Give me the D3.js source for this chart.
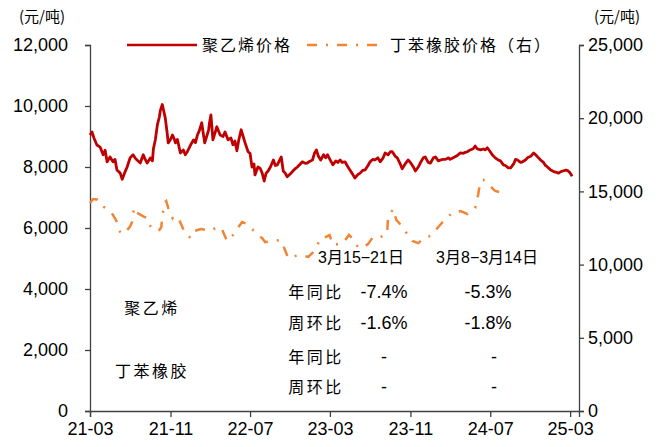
<!DOCTYPE html>
<html>
<head>
<meta charset="utf-8">
<script src="https://cdn.jsdelivr.net/npm/d3@7/dist/d3.min.js"></script>
<style>
  html, body { margin: 0; padding: 0; background: #fff; }
  svg { display: block; }
</style>
</head>
<body>
<svg id="chart" width="665" height="447"></svg>
<script>
// 聚乙烯价格 (元/吨, 左轴)
const pePrices = [
  ["2021-03-01",9050],["2021-03-07",9150],["2021-03-13",8950],["2021-03-22",8720],
  ["2021-04-01",8650],["2021-04-10",8400],["2021-04-16",8550],["2021-04-22",8170],
  ["2021-05-01",8330],["2021-05-10",8170],["2021-05-16",8250],["2021-05-22",7900],
  ["2021-06-01",7800],["2021-06-07",7600],["2021-06-16",7850],["2021-06-22",8000],
  ["2021-07-01",8300],["2021-07-10",8400],["2021-07-16",8300],["2021-07-22",8230],
  ["2021-08-01",8130],["2021-08-10",8400],["2021-08-16",8250],["2021-08-22",8130],
  ["2021-09-01",8300],["2021-09-07",8200],["2021-09-10",8600],["2021-09-16",8900],
  ["2021-09-22",9380],["2021-09-28",9640],["2021-10-01",9850],["2021-10-07",10050],
  ["2021-10-10",9900],["2021-10-16",9610],["2021-10-22",9100],["2021-10-25",8790],
  ["2021-11-01",8900],["2021-11-07",9050],["2021-11-13",8900],["2021-11-16",8790],
  ["2021-11-22",8900],["2021-12-01",8460],["2021-12-10",8560],["2021-12-16",8400],
  ["2021-12-22",8500],["2022-01-01",8720],["2022-01-10",8890],["2022-01-16",8800],
  ["2022-01-22",9050],["2022-01-28",9200],["2022-02-04",9450],["2022-02-10",9000],
  ["2022-02-13",8790],["2022-02-19",9000],["2022-02-25",9220],["2022-02-27",9400],
  ["2022-03-04",9710],["2022-03-10",8890],["2022-03-16",9100],["2022-03-22",9320],
  ["2022-04-01",9050],["2022-04-10",9000],["2022-04-16",9150],["2022-04-25",8890],
  ["2022-05-04",8950],["2022-05-10",8730],["2022-05-16",8850],["2022-05-22",8530],
  ["2022-05-28",8900],["2022-06-04",9220],["2022-06-10",9000],["2022-06-16",8790],
  ["2022-06-25",8500],["2022-07-01",8450],["2022-07-07",8000],["2022-07-13",8100],
  ["2022-07-16",7740],["2022-07-25",8000],["2022-08-01",7950],["2022-08-07",7800],
  ["2022-08-13",7540],["2022-08-19",7800],["2022-08-25",7870],["2022-09-01",8000],
  ["2022-09-10",8230],["2022-09-16",8050],["2022-09-22",8070],["2022-09-28",8200],
  ["2022-10-04",8330],["2022-10-10",7870],["2022-10-16",7800],["2022-10-22",7680],
  ["2022-11-01",7780],["2022-11-07",7850],["2022-11-16",7950],["2022-11-22",8000],
  ["2022-12-01",8100],["2022-12-07",8170],["2022-12-16",8120],["2022-12-22",8130],
  ["2023-01-01",8200],["2023-01-07",8230],["2023-01-13",8450],["2023-01-19",8560],
  ["2023-01-25",8350],["2023-02-01",8230],["2023-02-10",8400],["2023-02-16",8300],
  ["2023-02-22",8400],["2023-03-01",8250],["2023-03-10",8070],["2023-03-19",8200],
  ["2023-03-25",8150],["2023-04-01",8230],["2023-04-07",8150],["2023-04-16",8170],
  ["2023-04-25",8000],["2023-05-01",7900],["2023-05-10",7750],["2023-05-16",7640],
  ["2023-05-25",7750],["2023-06-01",7800],["2023-06-10",7900],["2023-06-16",7900],
  ["2023-06-25",8050],["2023-07-01",8170],["2023-07-10",8250],["2023-07-16",8230],
  ["2023-07-25",8300],["2023-08-01",8170],["2023-08-10",8300],["2023-08-16",8460],
  ["2023-08-25",8400],["2023-09-01",8500],["2023-09-07",8500],["2023-09-16",8350],
  ["2023-09-22",8300],["2023-10-01",8100],["2023-10-07",7940],["2023-10-16",8100],
  ["2023-10-25",8230],["2023-11-01",8150],["2023-11-10",8000],["2023-11-16",7870],
  ["2023-11-25",8000],["2023-12-01",8130],["2023-12-10",8300],["2023-12-16",8330],
  ["2023-12-25",8150],["2024-01-01",8130],["2024-01-10",8300],["2024-01-16",8330],
  ["2024-01-25",8200],["2024-02-01",8230],["2024-02-07",8250],["2024-02-16",8250],
  ["2024-02-25",8300],["2024-03-01",8250],["2024-03-10",8300],["2024-03-19",8350],
  ["2024-03-25",8400],["2024-04-01",8460],["2024-04-10",8450],["2024-04-16",8480],
  ["2024-04-22",8500],["2024-05-01",8560],["2024-05-10",8600],["2024-05-16",8690],
  ["2024-05-22",8600],["2024-06-01",8560],["2024-06-10",8590],["2024-06-16",8560],
  ["2024-06-22",8630],["2024-07-01",8500],["2024-07-07",8400],["2024-07-16",8300],
  ["2024-07-25",8230],["2024-08-01",8200],["2024-08-10",8070],["2024-08-16",8050],
  ["2024-08-25",7970],["2024-09-01",7970],["2024-09-10",8100],["2024-09-16",8250],
  ["2024-09-22",8230],["2024-10-01",8150],["2024-10-07",8170],["2024-10-16",8230],
  ["2024-10-22",8300],["2024-11-01",8350],["2024-11-10",8460],["2024-11-16",8400],
  ["2024-11-25",8300],["2024-12-01",8230],["2024-12-10",8150],["2024-12-16",8050],
  ["2024-12-22",8000],["2025-01-01",7900],["2025-01-10",7850],["2025-01-16",7830],
  ["2025-01-25",7800],["2025-02-01",7850],["2025-02-07",7870],["2025-02-16",7900],
  ["2025-02-22",7880],["2025-02-28",7820],["2025-03-07",7700]
];

// 丁苯橡胶价格 (元/吨, 右轴)
const brPrices = [
  ["2021-03-01",14200],["2021-03-10",14480],["2021-03-22",14450],["2021-04-07",14200],
  ["2021-04-13",13930],["2021-04-25",13750],["2021-05-04",13600],["2021-05-19",13050],
  ["2021-05-22",12840],["2021-06-01",12230],["2021-06-13",12090],["2021-06-22",12360],
  ["2021-07-01",12600],["2021-07-07",12910],["2021-07-13",13870],["2021-07-16",13600],
  ["2021-07-28",13460],["2021-08-10",13300],["2021-08-22",13180],["2021-08-25",12840],
  ["2021-09-10",12360],["2021-09-22",12360],["2021-09-28",12360],["2021-10-04",12570],
  ["2021-10-07",13250],["2021-10-13",14210],["2021-10-19",14340],["2021-10-25",13870],
  ["2021-11-07",13180],["2021-11-10",13320],["2021-11-25",13180],["2021-12-07",12570],
  ["2021-12-13",12230],["2021-12-22",12000],["2022-01-01",11820],["2022-01-13",12300],
  ["2022-02-01",12430],["2022-02-13",12380],["2022-02-25",12300],["2022-03-07",12400],
  ["2022-03-22",12500],["2022-04-07",12500],["2022-04-10",12230],["2022-04-22",11610],
  ["2022-05-01",11800],["2022-05-10",12020],["2022-05-19",12230],["2022-05-28",12600],
  ["2022-06-07",12910],["2022-06-22",12770],["2022-07-04",12500],["2022-07-16",12230],
  ["2022-07-25",12020],["2022-08-07",11800],["2022-08-16",11540],["2022-08-28",11580],
  ["2022-09-10",11610],["2022-10-01",11680],["2022-10-13",11130],["2022-10-25",10450],
  ["2022-11-10",10550],["2022-11-25",10650],["2022-12-10",10600],["2022-12-25",10520],
  ["2023-01-07",10800],["2023-01-16",11060],["2023-02-01",11820],["2023-02-16",11880],
  ["2023-02-28",12020],["2023-03-10",11340],["2023-03-25",11400],["2023-04-10",11470],
  ["2023-04-28",12020],["2023-05-10",11750],["2023-05-25",11200],["2023-06-07",11130],
  ["2023-06-25",11400],["2023-07-10",11880],["2023-08-01",11880],["2023-08-16",12000],
  ["2023-08-22",12160],["2023-08-25",13250],["2023-09-01",13500],["2023-09-10",13800],
  ["2023-09-19",13050],["2023-09-25",12910],["2023-10-10",12500],["2023-10-19",12200],
  ["2023-10-28",11880],["2023-11-07",11610],["2023-11-25",11470],["2023-12-04",11650],
  ["2023-12-16",11880],["2024-01-01",11950],["2024-01-13",12250],["2024-01-25",12570],
  ["2024-02-07",12900],["2024-02-22",13180],["2024-03-01",13400],["2024-03-10",13590],
  ["2024-03-22",13600],["2024-04-01",13660],["2024-04-13",13550],["2024-04-22",13460],
  ["2024-05-04",13650],["2024-05-16",13870],["2024-05-25",14750],["2024-06-01",15710],
  ["2024-06-10",15780],["2024-06-22",15550],["2024-07-01",15370],["2024-07-10",15150],
  ["2024-07-16",15030],["2024-07-28",14960]
];

const leftTicks = [0, 2000, 4000, 6000, 8000, 10000, 12000];
const rightTicks = [0, 5000, 10000, 15000, 20000, 25000];
const dateTicks = ["2021-03-01","2021-11-01","2022-07-01","2023-03-01","2023-11-01","2024-07-01","2025-03-01"];

const legendNames = ["聚乙烯价格", "丁苯橡胶价格（右）"];
const periodHeaders = ["3月15−21日", "3月8−3月14日"];
const productNames = ["聚乙烯", "丁苯橡胶"];
const metricNames = ["年同比", "周环比", "年同比", "周环比"];
const currentWeek = ["-7.4%", "-1.6%", "-", "-"];
const previousWeek = ["-5.3%", "-1.8%", "-", "-"];

const RED = "#C00000", ORANGE = "#F08536", AXIS = "#404040";
const DASH_DOT = "10,9,2,9";
const NUM_FONT = "'Liberation Sans', Arial, sans-serif";
const CJK_FONT = "'Noto Sans CJK SC', 'Noto Sans', sans-serif";

const parse = d3.timeParse("%Y-%m-%d");
const svg = d3.select("#chart");

const x = d3.scaleTime()
  .domain([parse("2021-03-01"), parse("2025-03-28")])
  .range([90, 579]);
const yL = d3.scaleLinear().domain([0, 12000]).range([411, 45]);
const yR = d3.scaleLinear().domain([0, 25000]).range([411, 45]);

// axes
const axisLeft = d3.axisLeft(yL).tickValues(leftTicks)
  .tickFormat(d3.format(",")).tickSizeOuter(0).tickSize(5).tickPadding(17);
const axisRight = d3.axisRight(yR).tickValues(rightTicks)
  .tickFormat(d3.format(",")).tickSizeOuter(0).tickSize(5).tickPadding(4);
const axisBottom = d3.axisBottom(x).tickValues(dateTicks.map(parse))
  .tickFormat(d3.timeFormat("%y-%m")).tickSizeOuter(0).tickSize(6).tickPadding(5);

function styleAxis(g) {
  g.selectAll("path, line").attr("stroke", AXIS).attr("stroke-width", 1.3);
  g.selectAll("text").attr("fill", "#000").style("font-family", NUM_FONT).style("font-size", "18px");
}
svg.append("g").attr("transform", "translate(90,0)").call(axisLeft).call(styleAxis);
svg.append("g").attr("transform", "translate(579,0)").call(axisRight).call(styleAxis);
svg.append("g").attr("transform", "translate(0,411)").call(axisBottom).call(styleAxis);

// units
[[42, "(元/吨)"], [617, "(元/吨)"]].forEach(([cx, t]) => {
  svg.append("text").attr("x", cx).attr("y", 17).attr("dy", "0.35em")
    .attr("text-anchor", "middle").style("font-family", CJK_FONT)
    .style("font-size", "15px").attr("fill", "#000").text(t);
});

// price lines
const linePE = d3.line().x(d => x(parse(d[0]))).y(d => yL(d[1]));
const lineBR = d3.line().x(d => x(parse(d[0]))).y(d => yR(d[1]));

svg.append("path").datum(brPrices).attr("d", lineBR)
  .attr("fill", "none").attr("stroke", ORANGE).attr("stroke-width", 2.5)
  .attr("stroke-dasharray", DASH_DOT);
svg.append("path").datum(pePrices).attr("d", linePE)
  .attr("fill", "none").attr("stroke", RED).attr("stroke-width", 2.8)
  .attr("stroke-linejoin", "round");

// legend
const legend = svg.append("g");
legend.append("line").attr("x1", 127).attr("x2", 197).attr("y1", 45).attr("y2", 45)
  .attr("stroke", RED).attr("stroke-width", 2.5);
legend.append("text").attr("x", 202).attr("y", 45).attr("dy", "0.35em")
  .style("font-family", CJK_FONT).style("font-size", "16px").style("letter-spacing", "2px")
  .text(legendNames[0]);
legend.append("line").attr("x1", 307).attr("x2", 377).attr("y1", 45).attr("y2", 45)
  .attr("stroke", ORANGE).attr("stroke-width", 2.5).attr("stroke-dasharray", DASH_DOT);
legend.append("text").attr("x", 390).attr("y", 45).attr("dy", "0.35em")
  .style("font-family", CJK_FONT).style("font-size", "16px").style("letter-spacing", "2px")
  .text(legendNames[1]);

// change table
const table = svg.append("g");
function txt(cx, cy, t, font, size, spacing) {
  table.append("text").attr("x", cx).attr("y", cy).attr("dy", "0.35em")
    .attr("text-anchor", "middle").style("font-family", font)
    .style("font-size", size + "px").style("letter-spacing", (spacing || 0) + "px")
    .attr("fill", "#000").text(t);
}
txt(361, 257, periodHeaders[0], NUM_FONT + ", 'Noto Sans CJK SC'", 16);
txt(487, 257, periodHeaders[1], NUM_FONT + ", 'Noto Sans CJK SC'", 16);
txt(152, 308, productNames[0], CJK_FONT, 16, 2.5);
txt(152, 371, productNames[1], CJK_FONT, 16, 2.5);
const rowY = [292, 323, 357, 387];
metricNames.forEach((m, i) => {
  txt(316, rowY[i], m, CJK_FONT, 16, 2.5);
  txt(384, rowY[i], currentWeek[i], NUM_FONT, 18);
  txt(i < 2 ? 488 : 494, rowY[i], previousWeek[i], NUM_FONT, 18);
});
</script>
</body>
</html>
